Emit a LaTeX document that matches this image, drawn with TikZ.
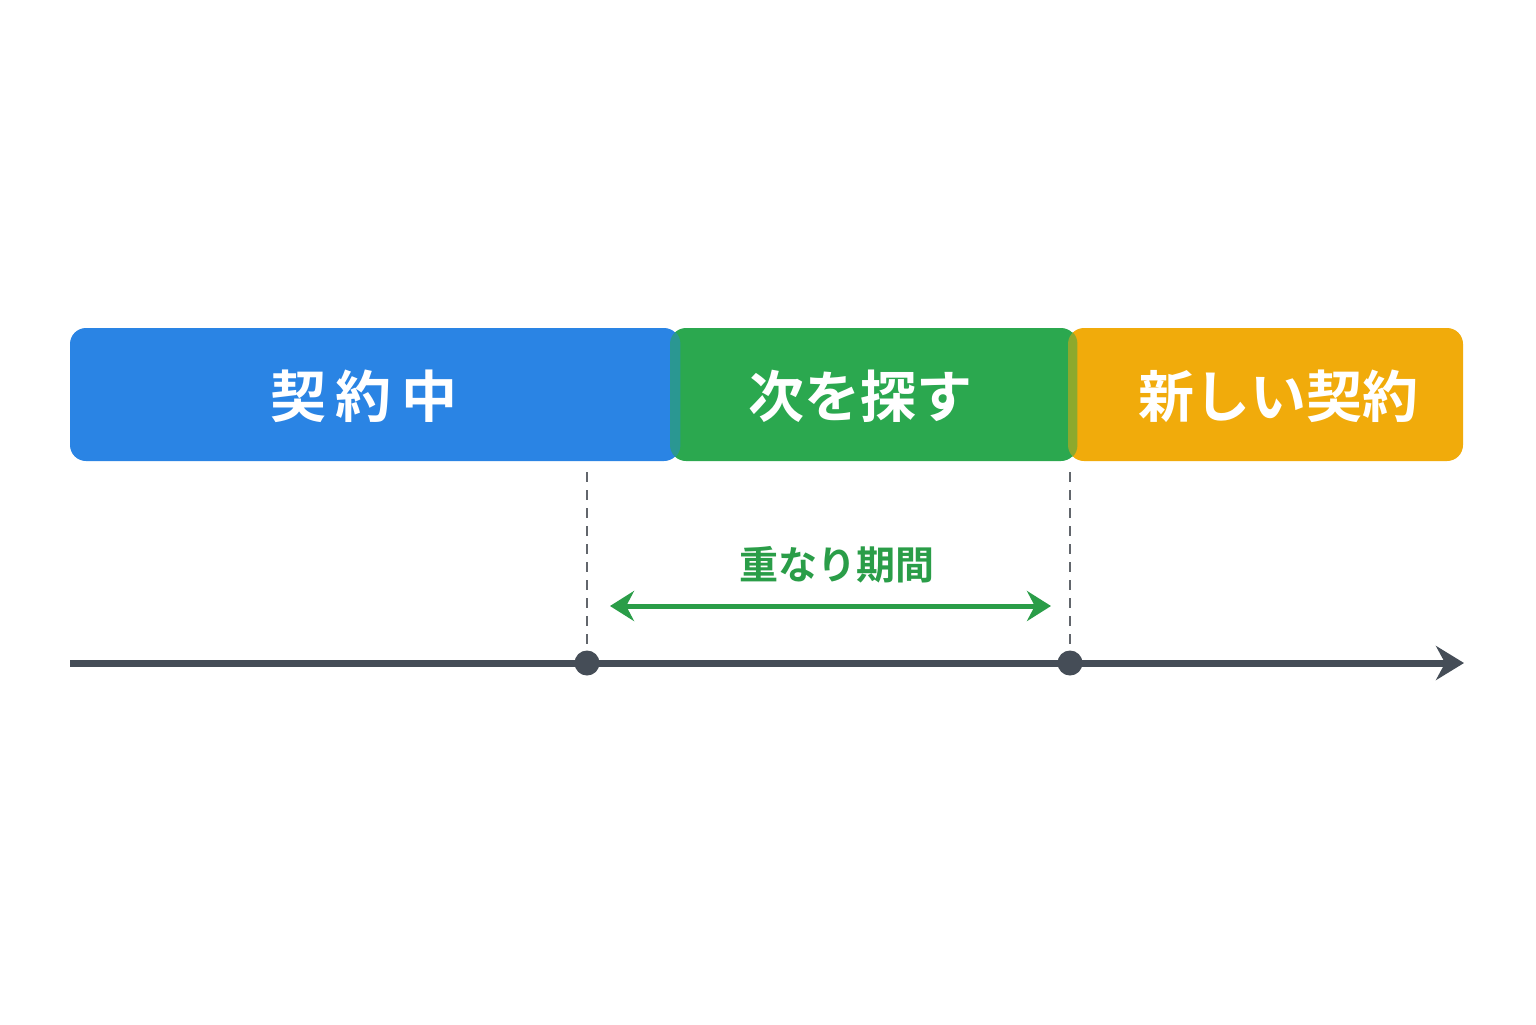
\documentclass[tikz,border=0pt]{standalone}
\usepackage{fontspec}
\newfontfamily\jpb{Noto Sans CJK JP Bold}
\usetikzlibrary{arrows.meta}
\definecolor{cblue}{HTML}{2A84E4}
\definecolor{cgreen}{HTML}{2BA84F}
\definecolor{corange}{HTML}{F1AB0B}
\definecolor{cline}{HTML}{454D57}
\definecolor{cdash}{HTML}{62666C}
\definecolor{clabel}{HTML}{2A9D48}
\begin{document}
\begin{tikzpicture}[x=0.5pt,y=-0.5pt,
  phase/.style={rectangle, rounded corners=8pt, inner sep=0pt, minimum height=66.5pt, draw=none},
  phasetext/.style={text=white, font=\jpb\fontsize{28}{34}\selectfont, inner sep=0pt},
  guide/.style={draw=cdash, line width=1.3pt, dash pattern=on 5pt off 4pt},
  dot/.style={circle, fill=cline, minimum size=12.5pt, inner sep=0pt},
  axis/.style={draw=cline, line width=3.5pt, -{Stealth[length=14pt,width=17pt]}},
  span/.style={draw=clabel, line width=2.5pt, {Stealth[length=12pt,width=15pt]}-{Stealth[length=12pt,width=15pt]}}]
\path[use as bounding box, fill=white] (0,0) rectangle (1536,1024);
% phases
\node[phase, fill=cblue, minimum width=305pt] (b1) at (375,394.5) {};
\node[phase, fill=cgreen, minimum width=203.5pt] (b2) at (873.5,394.5) {};
\node[phase, fill=corange, minimum width=197.5pt] (b3) at (1265.5,394.5) {};
% overlaps (mixed colours)
\begin{scope}
  \clip[rounded corners=8pt] (b2.south west) rectangle (b2.north east);
  \fill[cblue, fill opacity=0.45, rounded corners=8pt] (b1.south west) rectangle (b1.north east);
\end{scope}
\begin{scope}
  \clip[rounded corners=8pt] (b3.south west) rectangle (b3.north east);
  \fill[cgreen, fill opacity=0.5, rounded corners=8pt] (b2.south west) rectangle (b2.north east);
\end{scope}
\node[phasetext] (t1) at (364,396) {契\hspace{5pt}約\hspace{5pt}中};
\node[phasetext] (t2) at (860,396) {次を探す};
\node[phasetext] (t3) at (1278,396) {新しい契約};
% timeline
\coordinate (a0) at (70,663);
\coordinate (a1) at (1464,663);
\draw[axis] (a0) -- (a1);
\coordinate (g1) at (587,472);
\coordinate (g2) at (1070,472);
\coordinate (h1) at (587,652);
\coordinate (h2) at (1070,652);
\draw[guide] (g1) -- (h1);
\draw[guide] (g2) -- (h2);
\node[dot] (d1) at (587,663) {};
\node[dot] (d2) at (1070,663) {};
% overlap span
\coordinate (s1) at (610,606);
\coordinate (s2) at (1051,606);
\draw[span] (s1) -- (s2);
\node[text=clabel, font=\jpb\fontsize{19.5}{24}\selectfont, inner sep=0pt] (lab) at (837,565) {重なり期間};
\end{tikzpicture}
\end{document}
